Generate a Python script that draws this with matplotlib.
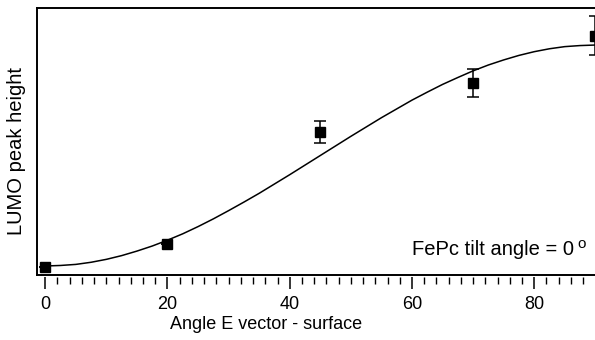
import numpy as np
import matplotlib
matplotlib.use("Agg")
import matplotlib.pyplot as plt
from matplotlib.ticker import MultipleLocator

plt.rcParams['font.family'] = ['Liberation Sans', 'DejaVu Sans']

# measured points (arbitrary units)
angle = [0, 20, 45, 70, 90]
height = [0.028, 0.116, 0.536, 0.720, 0.897]
height_err = [0.0, 0.0, 0.041, 0.053, 0.073]

# fitted curve
fit_angle = [0, 2.5, 5, 7.5, 10, 12.5, 15, 17.5, 20, 22.5, 25, 27.5, 30, 32.5, 35, 37.5,
             40, 42.5, 45, 47.5, 50, 52.5, 55, 57.5, 60, 62.5, 65, 67.5, 70, 72.5, 75,
             77.5, 80, 82.5, 85, 87.5, 90]
fit_height = [0.032, 0.034, 0.038, 0.046, 0.057, 0.071, 0.088, 0.107, 0.129, 0.153,
              0.180, 0.209, 0.240, 0.272, 0.305, 0.340, 0.375, 0.411, 0.447, 0.483,
              0.519, 0.554, 0.589, 0.622, 0.655, 0.685, 0.714, 0.740, 0.765, 0.787,
              0.806, 0.823, 0.837, 0.848, 0.856, 0.860, 0.862]

fig = plt.figure(figsize=(5.95, 3.4), dpi=100)
ax = fig.add_axes([0.0617, 0.1926, 0.9383, 0.783])

ax.plot(fit_angle, fit_height, color='black', lw=1.1)
ax.errorbar(angle, height, yerr=height_err, fmt='s', color='black', ms=7.2,
            elinewidth=1.1, capsize=4.5, capthick=1.1)

ax.set_xlim(-1.4, 89.95)
ax.set_ylim(0, 1)

# box lines
ax.spines['right'].set_visible(False)
for s in ['left', 'top']:
    ax.spines[s].set_linewidth(1.4)
ax.spines['bottom'].set_position(('outward', 1.8))
ax.spines['bottom'].set_visible(False)
ax.axhline(0, color='black', lw=1.4, clip_on=False)

ax.set_yticks([])
ax.xaxis.set_major_locator(MultipleLocator(20))
ax.xaxis.set_minor_locator(MultipleLocator(2))
ax.tick_params(axis='x', which='major', direction='out', length=8.5, width=1.1,
               labelsize=13, pad=5)
ax.tick_params(axis='x', which='minor', direction='out', length=4.8, width=1.0)

ax.set_xlabel('Angle E vector - surface', fontsize=13)
ax.xaxis.set_label_coords(0.411, -0.155)
ax.set_ylabel('LUMO peak height', fontsize=14.5)
ax.yaxis.set_label_coords(-0.019, 0.464)

ax.text(0.9624, 0.073, 'FePc tilt angle = 0', transform=ax.transAxes,
        ha='right', va='baseline', fontsize=14.5)
ax.text(0.9678, 0.101, 'o', transform=ax.transAxes,
        ha='left', va='baseline', fontsize=11)

fig.savefig('out.png', dpi=100)
